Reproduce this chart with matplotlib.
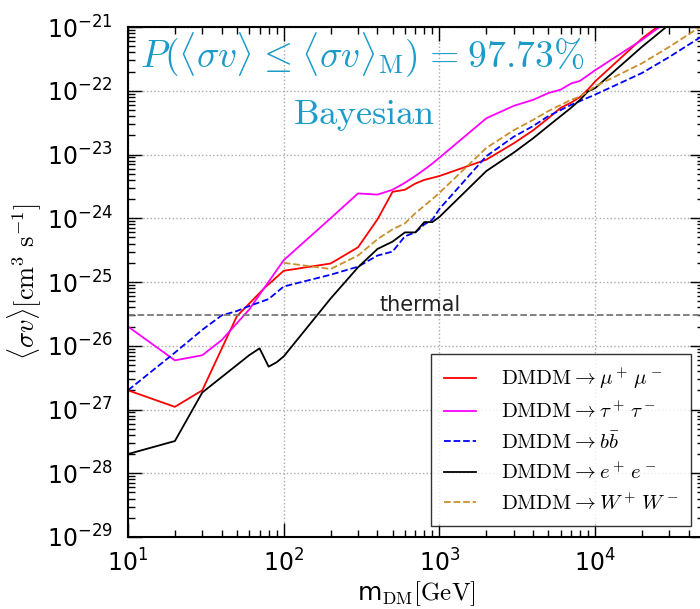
import numpy as np
import matplotlib
matplotlib.use("Agg")
import matplotlib.pyplot as plt
from matplotlib.ticker import LogLocator, NullFormatter

plt.rcParams['mathtext.fontset'] = 'dejavusans'
plt.rcParams['axes.unicode_minus'] = False

# ---- data ----
m_mumu = [10, 20, 30, 50, 75, 100, 200, 300, 400, 500, 600, 700, 800, 900, 1000,
          2000, 3000, 4000, 5000, 6000, 7000, 8000, 9000, 10000, 20000, 30000]
sv_mumu = [2e-27, 1.1e-27, 2e-27, 2.9e-26, 8e-26, 1.5e-25, 1.95e-25, 3.5e-25, 9.6e-25,
           2.6e-24, 2.8e-24, 3.5e-24, 4e-24, 4.3e-24, 4.6e-24,
           8.3e-24, 1.5e-23, 2.4e-23, 3.7e-23, 5.4e-23, 6.5e-23, 8e-23, 1.05e-22, 1.4e-22,
           6.6e-22, 1.4e-21]

m_tautau = [10, 20, 30, 40, 60, 100, 200, 300, 400, 500, 600, 700, 800, 900, 1000,
            2000, 3000, 4000, 5000, 6000, 7000, 8000, 10000, 20000, 30000]
sv_tautau = [2e-26, 5.9e-27, 7.1e-27, 1.23e-26, 3.7e-26, 2.2e-25, 1e-24, 2.45e-24, 2.35e-24,
             2.8e-24, 3.6e-24, 4.6e-24, 5.8e-24, 7.2e-24, 8.9e-24,
             3.7e-23, 5.8e-23, 7.2e-23, 9.2e-23, 1.04e-22, 1.3e-22, 1.43e-22, 2.1e-22,
             6.3e-22, 1.3e-21]

m_bb = [10, 20, 30, 40, 50, 60, 80, 100, 200, 300, 400, 500, 600, 700, 800, 900, 1000,
        2000, 3000, 4000, 5000, 7000, 10000, 20000, 30000, 50000]
sv_bb = [2e-27, 7.8e-27, 1.78e-26, 3e-26, 3.5e-26, 4.2e-26, 5.4e-26, 8.5e-26, 1.3e-25,
         1.74e-25, 2.6e-25, 3e-25, 5.2e-25, 6e-25, 8e-25, 9.5e-25, 1.4e-24,
         9.4e-24, 1.9e-23, 2.8e-23, 4e-23, 6e-23, 8.7e-23, 1.9e-22, 3.4e-22, 7.5e-22]

m_ee = [10, 20, 30, 60, 70, 80, 90, 100, 200, 300, 400, 500, 600, 700, 800, 900, 1000,
        2000, 3000, 4000, 5000, 7000, 8000, 9000, 10000, 20000, 30000]
sv_ee = [2e-28, 3.2e-28, 1.85e-27, 7.1e-27, 9.1e-27, 4.7e-27, 5.5e-27, 6.8e-27, 5.5e-26,
         1.7e-25, 3.3e-25, 4.3e-25, 6e-25, 6e-25, 8.7e-25, 8.7e-25, 1.05e-24,
         5.5e-24, 1.07e-23, 1.8e-23, 2.8e-23, 5.4e-23, 7.2e-23, 9.8e-23, 1.1e-22,
         4.9e-22, 1.1e-21]

m_ww = [100, 200, 300, 400, 500, 600, 700, 900, 1000, 2000, 3000, 4000, 5000, 7000,
        8000, 10000, 20000, 30000, 50000]
sv_ww = [2e-25, 1.6e-25, 2.6e-25, 4.7e-25, 6.7e-25, 8.3e-25, 1.2e-24, 2e-24, 2.5e-24,
         1.27e-23, 2.4e-23, 3.5e-23, 4.8e-23, 7.2e-23, 8.1e-23, 1.17e-22, 2.7e-22,
         4.9e-22, 1.1e-21]

thermal_sv = 3e-26

labels = [r"$\mathrm{DMDM} \rightarrow \mu^+\,\mu^-$",
          r"$\mathrm{DMDM} \rightarrow \tau^+\,\tau^-$",
          r"$\mathrm{DMDM} \rightarrow b\bar{b}$",
          r"$\mathrm{DMDM} \rightarrow e^+\,e^-$",
          r"$\mathrm{DMDM} \rightarrow W^+\,W^-$"]

fig = plt.figure(figsize=(7.0, 6.09), dpi=100)
ax = fig.add_axes([128/700, 1-537/609, 576/700, 510/609])

lw = 1.3
ax.plot(m_mumu, sv_mumu, color='red', lw=lw, label=labels[0])
ax.plot(m_tautau, sv_tautau, color='magenta', lw=lw, label=labels[1])
ax.plot(m_bb, sv_bb, color='blue', lw=lw, ls='--', label=labels[2])
ax.plot(m_ee, sv_ee, color='black', lw=lw, label=labels[3])
ax.plot(m_ww, sv_ww, color='#c8902a', lw=lw, ls='--', label=labels[4])
ax.axhline(thermal_sv, color='#777777', lw=1.3, ls='--')

ax.set_xscale('log')
ax.set_yscale('log')
ax.set_xlim(10, 5e4)
ax.set_ylim(1e-29, 1e-21)

ax.yaxis.set_major_locator(LogLocator(base=10, numticks=20))
ax.yaxis.set_minor_locator(LogLocator(base=10, subs=np.arange(2, 10), numticks=20))
ax.xaxis.set_major_locator(LogLocator(base=10, numticks=20))
ax.xaxis.set_minor_locator(LogLocator(base=10, subs=np.arange(2, 10), numticks=20))
ax.yaxis.set_minor_formatter(NullFormatter())
ax.xaxis.set_minor_formatter(NullFormatter())

ax.tick_params(which='both', direction='in', top=True, right=True)
ax.tick_params(which='major', length=10, width=1.0, labelsize=17)
ax.tick_params(axis='y', which='major', pad=11)
ax.tick_params(axis='x', which='major', pad=9)
ax.tick_params(which='minor', length=5, width=1.0)
for s in ax.spines.values():
    s.set_linewidth(1.5)

ax.grid(True, which='major', color='#aaaaaa', ls=':', lw=1.0)

ax.text(750, thermal_sv * 1.15, 'thermal', fontsize=15, ha='center', va='baseline',
        color='#222222')

title_col = '#1b9bc8'
ax.text(0.02, 0.945,
        r"$P(\langle\sigma v\rangle \hspace{0.09} \leq \hspace{0.09} \langle\sigma v\rangle_{\mathrm{M}}) \hspace{0.09} = \hspace{0.09} 97.73\%$",
        transform=ax.transAxes, fontsize=27, color=title_col, ha='left', va='center',
        math_fontfamily='cm')
ax.text(0.41, 0.826, r"$\mathrm{Bayesian}$", transform=ax.transAxes, fontsize=26,
        color=title_col, ha='center', va='center', math_fontfamily='cm')

ax.set_ylabel(r"$\langle\sigma v\rangle[\mathrm{cm}^3\ \mathrm{s}^{-1}]$", fontsize=19,
              math_fontfamily='cm')
ax.yaxis.set_label_coords(-0.145, 0.5)
ax.set_xlabel(r"m$_{\mathrm{DM}}[\mathrm{GeV}]$", fontsize=18, math_fontfamily='cm')
ax.xaxis.set_label_coords(0.5, -0.082)

leg = ax.legend(loc='lower right', fontsize=15, frameon=True, fancybox=False,
                edgecolor='black', handlelength=1.55, labelspacing=0.45,
                borderpad=0.6, handletextpad=1.2, borderaxespad=0,
                bbox_to_anchor=(1 - 13/576, 11/510))
leg.get_frame().set_linewidth(1.0)
for t in leg.get_texts():
    t.set_math_fontfamily('cm')

fig.savefig('out.png', dpi=100)
